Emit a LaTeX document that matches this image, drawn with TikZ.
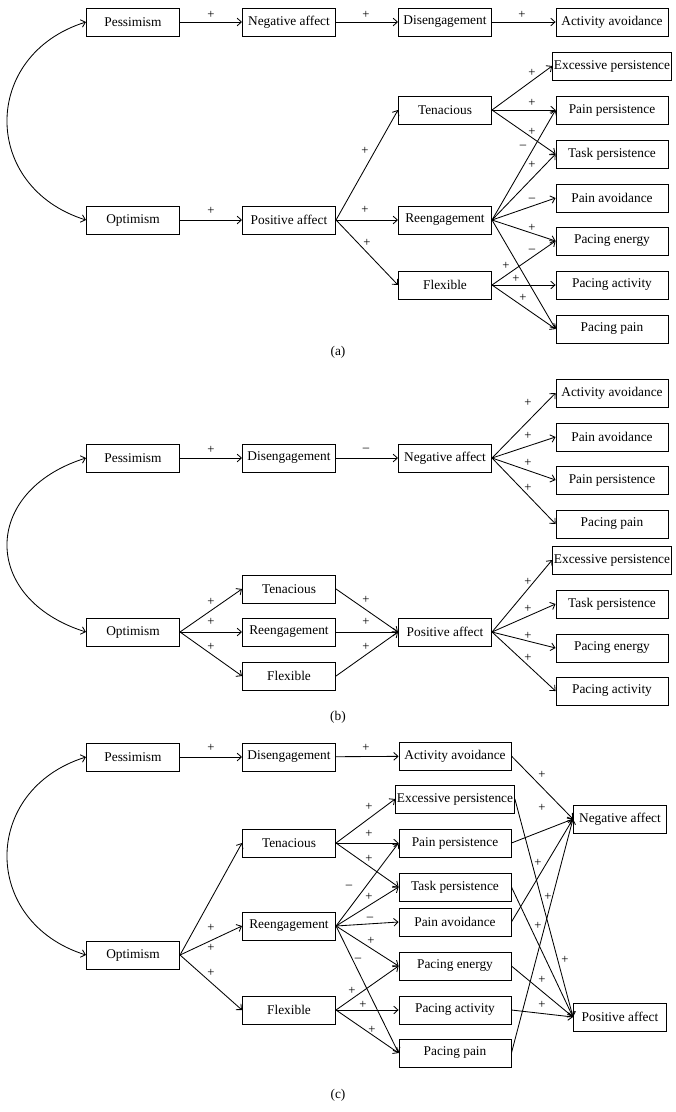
\documentclass[tikz,border=0pt]{standalone}
\usepackage{fontspec}
\setmainfont{Liberation Serif}
\usetikzlibrary{arrows.meta}

\tikzset{
  box/.style={draw, line width=0.6pt, minimum width=2.33cm, minimum height=0.7cm, inner sep=1pt, font=\fontsize{9.5}{11}\selectfont},
  wbox/.style={box, minimum width=2.8cm},
  arr/.style={line width=0.6pt, -{Straight Barb[length=3pt,width=5.5pt]}},
  darr/.style={line width=0.6pt, {Straight Barb[length=3pt,width=5.5pt]}-{Straight Barb[length=3pt,width=5.5pt]}},
  sign/.style={inner sep=0pt, font=\fontsize{9}{10}\selectfont},
  panellabel/.style={font=\fontsize{9.5}{11}\selectfont}
}

\begin{document}
\begin{tikzpicture}[x=0.025cm, y=-0.025cm]
    \fill[white] (0,0) rectangle (676,1112);
    \useasboundingbox (0,0) rectangle (676,1112);

    % (a)
    \node[box] (pessA) at (133,22) {Pessimism};
    \node[box] (negA) at (289,22) {Negative affect};
    \node[box] (disA) at (445,22) {Disengagement};
    \node[wbox] (actavA) at (612,22) {Activity avoidance};
    \node[wbox] (excA) at (612,66) {Excessive persistence};
    \node[box] (tenA) at (445,110) {Tenacious};
    \node[wbox] (painpA) at (612,110) {Pain persistence};
    \node[wbox] (taskA) at (612,154) {Task persistence};
    \node[wbox] (painavA) at (612,198) {Pain avoidance};
    \node[box] (optA) at (133,220) {Optimism};
    \node[box] (posA) at (289,220) {Positive affect};
    \node[box] (reA) at (445,220) {Reengagement};
    \node[wbox] (paceA) at (612,241) {Pacing energy};
    \node[box] (flexA) at (445,285) {Flexible};
    \node[wbox] (pacactA) at (612,285) {Pacing activity};
    \node[wbox] (pacpainA) at (612,329) {Pacing pain};
    \node[panellabel] (labA) at (338,352) {(a)};

    \draw[darr] (pessA.west) .. controls +(-105,33) and +(-105,-33) .. (optA.west);
    \draw[arr] (pessA) -- (negA);
    \draw[arr] (negA) -- (disA);
    \draw[arr] (disA) -- (actavA);
    \draw[arr] (optA) -- (posA);
    \draw[arr] (posA.east) -- (tenA.west);
    \draw[arr] (posA.east) -- (reA.west);
    \draw[arr] (posA.east) -- (flexA.west);
    \draw[arr] (tenA.east) -- (excA.west);
    \draw[arr] (tenA.east) -- (painpA.west);
    \draw[arr] (tenA.east) -- (taskA.west);
    \draw[arr] (reA.east) -- (painpA.west);
    \draw[arr] (reA.east) -- (taskA.west);
    \draw[arr] (reA.east) -- (painavA.west);
    \draw[arr] (reA.east) -- (paceA.west);
    \draw[arr] (reA.east) -- (pacpainA.west);
    \draw[arr] (flexA.east) -- (paceA.west);
    \draw[arr] (flexA.east) -- (pacactA.west);
    \draw[arr] (flexA.east) -- (pacpainA.west);

    \foreach \x/\y/\s [count=\i] in {211/15/+, 366/15/+, 522/15/+, 211/211/+,
        365/151/+, 365/210/+, 367/243/+, 532/73/+, 532/103/+, 532/132/+,
        523/147/–, 532/165/+, 532/200/–, 532/228/+, 532/251/–,
        506/266/+, 516/279/+, 523/298/+}
      \node[sign] (sa\i) at (\x,\y) {\s};

    % (b)
    \node[box] (pessB) at (133,458) {Pessimism};
    \node[box] (disB) at (289,458) {Disengagement};
    \node[box] (negB) at (445,458) {Negative affect};
    \node[wbox] (actavB) at (612,393) {Activity avoidance};
    \node[wbox] (painavB) at (612,437) {Pain avoidance};
    \node[wbox] (painpB) at (612,480) {Pain persistence};
    \node[wbox] (pacpainB) at (612,524) {Pacing pain};
    \node[wbox] (excB) at (612,560) {Excessive persistence};
    \node[box] (tenB) at (289,589) {Tenacious};
    \node[wbox] (taskB) at (612,604) {Task persistence};
    \node[box] (optB) at (133,632) {Optimism};
    \node[box] (reB) at (289,632) {Reengagement};
    \node[box] (posB) at (445,632) {Positive affect};
    \node[wbox] (paceB) at (612,648) {Pacing energy};
    \node[box] (flexB) at (289,676) {Flexible};
    \node[wbox] (pacactB) at (612,691) {Pacing activity};
    \node[panellabel] (labB) at (338,717) {(b)};

    \draw[darr] (pessB.west) .. controls +(-105,33) and +(-105,-33) .. (optB.west);
    \draw[arr] (pessB) -- (disB);
    \draw[arr] (disB) -- (negB);
    \draw[arr] (negB.east) -- (actavB.west);
    \draw[arr] (negB.east) -- (painavB.west);
    \draw[arr] (negB.east) -- (painpB.west);
    \draw[arr] (negB.east) -- (pacpainB.west);
    \draw[arr] (optB.east) -- (tenB.west);
    \draw[arr] (optB.east) -- (reB.west);
    \draw[arr] (optB.east) -- (flexB.west);
    \draw[arr] (tenB.east) -- (posB.west);
    \draw[arr] (reB.east) -- (posB.west);
    \draw[arr] (flexB.east) -- (posB.west);
    \draw[arr] (posB.east) -- (excB.west);
    \draw[arr] (posB.east) -- (taskB.west);
    \draw[arr] (posB.east) -- (paceB.west);
    \draw[arr] (posB.east) -- (pacactB.west);

    \foreach \x/\y/\s [count=\i] in {211/450/+, 366/450/–, 528/403/+, 528/436/+,
        528/463/+, 528/488/+, 528/582/+, 528/609/+, 528/636/+, 528/658/+,
        366/600/+, 366/622/+, 366/647/+, 211/602/+, 211/622/+, 211/647/+}
      \node[sign] (sb\i) at (\x,\y) {\s};

    % (c)
    \node[box] (pessC) at (133,757) {Pessimism};
    \node[box] (disC) at (289,757) {Disengagement};
    \node[wbox] (actavC) at (455,756) {Activity avoidance};
    \node[wbox] (excC) at (455,799) {Excessive persistence};
    \node[box] (negC) at (620,819) {Negative affect};
    \node[box] (tenC) at (289,843) {Tenacious};
    \node[wbox] (painpC) at (455,843) {Pain persistence};
    \node[wbox] (taskC) at (455,887) {Task persistence};
    \node[wbox] (painavC) at (455,922) {Pain avoidance};
    \node[box] (reC) at (289,926) {Reengagement};
    \node[box] (optC) at (133,955) {Optimism};
    \node[wbox] (paceC) at (455,966) {Pacing energy};
    \node[box] (flexC) at (289,1010) {Flexible};
    \node[wbox] (pacactC) at (455,1010) {Pacing activity};
    \node[box] (posC) at (620,1017) {Positive affect};
    \node[wbox] (pacpainC) at (455,1053) {Pacing pain};
    \node[panellabel] (labC) at (338,1095) {(c)};

    \draw[darr] (pessC.west) .. controls +(-105,33) and +(-105,-33) .. (optC.west);
    \draw[arr] (pessC) -- (disC);
    \draw[arr] (disC) -- (actavC);
    \draw[arr] (optC.east) -- (tenC.west);
    \draw[arr] (optC.east) -- (reC.west);
    \draw[arr] (optC.east) -- (flexC.west);
    \draw[arr] (tenC.east) -- (excC.west);
    \draw[arr] (tenC.east) -- (painpC.west);
    \draw[arr] (tenC.east) -- (taskC.west);
    \draw[arr] (reC.east) -- (painpC.west);
    \draw[arr] (reC.east) -- (taskC.west);
    \draw[arr] (reC.east) -- (painavC.west);
    \draw[arr] (reC.east) -- (paceC.west);
    \draw[arr] (reC.east) -- (pacpainC.west);
    \draw[arr] (flexC.east) -- (paceC.west);
    \draw[arr] (flexC.east) -- (pacactC.west);
    \draw[arr] (flexC.east) -- (pacpainC.west);
    \draw[arr] (actavC.east) -- (negC.west);
    \draw[arr] (painpC.east) -- (negC.west);
    \draw[arr] (painavC.east) -- (negC.west);
    \draw[arr] (pacpainC.east) -- (negC.west);
    \draw[arr] (excC.east) -- (posC.west);
    \draw[arr] (taskC.east) -- (posC.west);
    \draw[arr] (paceC.east) -- (posC.west);
    \draw[arr] (pacactC.east) -- (posC.west);

    \foreach \x/\y/\s [count=\i] in {211/748/+, 366/748/+, 211/928/+, 211/948/+,
        211/973/+, 369/807/+, 369/834/+, 369/859/+, 349/887/–, 369/897/+,
        370/919/–, 371/941/+, 358/960/–, 352/991/+, 363/1005/+, 372/1030/+,
        542/775/+, 542/808/+, 538/863/+, 548/897/+, 538/926/+, 565/960/+,
        542/980/+, 542/1005/+}
      \node[sign] (sc\i) at (\x,\y) {\s};

\end{tikzpicture}
\end{document}
